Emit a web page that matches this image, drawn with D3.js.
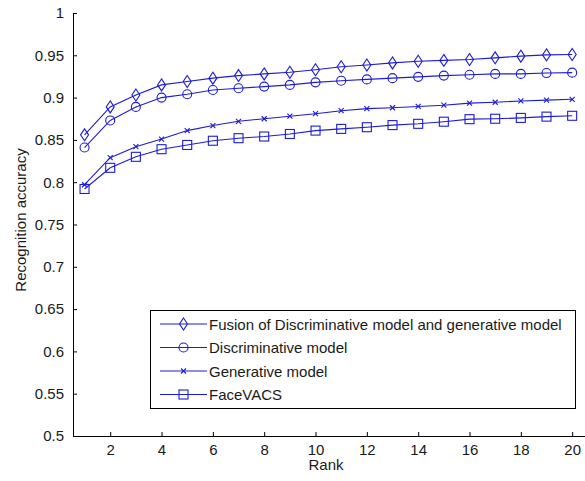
<!DOCTYPE html>
<html>
<head>
<meta charset="utf-8">
<script src="https://cdn.jsdelivr.net/npm/d3@7"></script>
<style>
  body { margin: 0; background: #fff; }
  svg { display: block; font-family: "Liberation Sans", Arial, sans-serif; }
</style>
</head>
<body>
<svg width="585" height="481"></svg>
<script>
var ranks = [1, 2, 3, 4, 5, 6, 7, 8, 9, 10, 11, 12, 13, 14, 15, 16, 17, 18, 19, 20];
var fusion = [0.856, 0.889, 0.903, 0.915, 0.919, 0.923, 0.926, 0.928, 0.930, 0.933, 0.9365, 0.9385, 0.941, 0.943, 0.944, 0.945, 0.947, 0.949, 0.9505, 0.951];
var discriminative = [0.841, 0.873, 0.889, 0.900, 0.904, 0.909, 0.911, 0.913, 0.915, 0.918, 0.920, 0.9215, 0.923, 0.9245, 0.926, 0.927, 0.928, 0.928, 0.929, 0.9295];
var generative = [0.797, 0.829, 0.842, 0.851, 0.861, 0.867, 0.872, 0.875, 0.878, 0.881, 0.8845, 0.887, 0.888, 0.8895, 0.891, 0.8935, 0.8945, 0.896, 0.897, 0.898];
var facevacs = [0.792, 0.817, 0.830, 0.839, 0.844, 0.849, 0.852, 0.854, 0.857, 0.861, 0.863, 0.865, 0.8675, 0.869, 0.8715, 0.8745, 0.875, 0.876, 0.8775, 0.8785];
var seriesNames = ["Fusion of Discriminative model and generative model", "Discriminative model", "Generative model", "FaceVACS"];
var seriesMarkers = ["diamond", "circle", "x", "square"];
var xTicks = [2, 4, 6, 8, 10, 12, 14, 16, 18, 20];
var yTicks = [0.5, 0.55, 0.6, 0.65, 0.7, 0.75, 0.8, 0.85, 0.9, 0.95, 1];

var blue = "#1c1cd8";
var fontSize = 15;
var svg = d3.select("svg");

var x = d3.scaleLinear().domain([0.55, 20.5]).range([73, 585]);
var y = d3.scaleLinear().domain([0.5, 1]).range([436, 13]);

svg.append("g")
    .attr("transform", "translate(0,436)")
    .call(d3.axisBottom(x).tickValues(xTicks).tickSizeInner(-4).tickSizeOuter(0).tickPadding(8));
svg.append("g")
    .attr("transform", "translate(73,0)")
    .call(d3.axisLeft(y).tickValues(yTicks).tickFormat(function(d) { return String(+d.toFixed(2)); })
      .tickSizeInner(-4).tickSizeOuter(0).tickPadding(9));

svg.selectAll(".tick text").attr("font-size", fontSize).attr("fill", "#1a1a1a").attr("font-family", "Liberation Sans, Arial, sans-serif");
svg.selectAll(".domain, .tick line").attr("stroke", "#000");

svg.append("text")
    .attr("x", 326).attr("y", 470)
    .attr("text-anchor", "middle")
    .attr("font-size", fontSize).attr("fill", "#1a1a1a")
    .text("Rank");

svg.append("text")
    .attr("transform", "translate(26,220) rotate(-90)")
    .attr("text-anchor", "middle")
    .attr("font-size", fontSize).attr("fill", "#1a1a1a")
    .text("Recognition accuracy");

function drawMarker(g, type, cx, cy) {
  if (type == "diamond") {
    g.append("path").attr("d", "M" + cx + "," + (cy - 6) + "L" + (cx + 4) + "," + cy + "L" + cx + "," + (cy + 6) + "L" + (cx - 4) + "," + cy + "Z");
  } else if (type == "circle") {
    g.append("circle").attr("cx", cx).attr("cy", cy).attr("r", 4.5);
  } else if (type == "square") {
    g.append("rect").attr("x", cx - 4.5).attr("y", cy - 4.5).attr("width", 9).attr("height", 9);
  } else {
    g.append("path").attr("d", "M" + (cx - 2.5) + "," + (cy - 2.5) + "L" + (cx + 2.5) + "," + (cy + 2.5) + "M" + (cx + 2.5) + "," + (cy - 2.5) + "L" + (cx - 2.5) + "," + (cy + 2.5));
  }
}

var allSeries = [fusion, discriminative, generative, facevacs];
var line = d3.line()
    .x(function(d, i) { return x(ranks[i]); })
    .y(function(d) { return y(d); });

allSeries.forEach(function(values, s) {
  var g = svg.append("g").attr("fill", "none").attr("stroke", blue).attr("stroke-width", 1.1);
  g.append("path").attr("d", line(values));
  values.forEach(function(v, i) {
    drawMarker(g, seriesMarkers[s], x(ranks[i]), y(v));
  });
});

// legend
var legend = svg.append("g");
legend.append("rect")
    .attr("x", 150.5).attr("y", 310.5).attr("width", 425).attr("height", 98)
    .attr("fill", "#fff").attr("stroke", "#000");
seriesNames.forEach(function(name, i) {
  var cy = 324 + i * 23.5;
  var g = legend.append("g").attr("fill", "none").attr("stroke", blue).attr("stroke-width", 1.1);
  g.append("line").attr("x1", 160).attr("x2", 207).attr("y1", cy).attr("y2", cy);
  drawMarker(g, seriesMarkers[i], 183.5, cy);
  legend.append("text")
      .attr("x", 209).attr("y", cy + 5.5)
      .attr("font-size", fontSize).attr("fill", "#1a1a1a")
      .text(name);
});
</script>
</body>
</html>
